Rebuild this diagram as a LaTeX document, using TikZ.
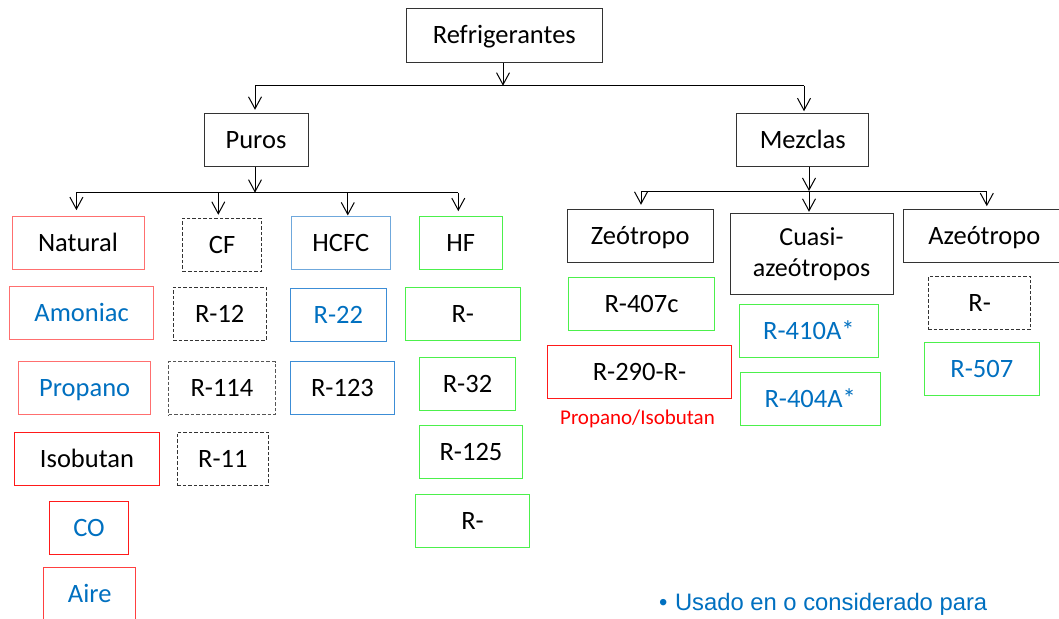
\documentclass[tikz,border=0pt]{standalone}
\usepackage{fontspec}
\setmainfont{Carlito}
\newfontfamily\arialfont{Liberation Sans}
\usetikzlibrary{arrows.meta}
\definecolor{lred}{HTML}{FF6F6F}
\definecolor{dred}{HTML}{FF1A1A}
\definecolor{mred}{HTML}{FF4040}
\definecolor{bboxc}{HTML}{3C8DD6}
\definecolor{lbboxc}{HTML}{6FA8DC}
\definecolor{gboxc}{HTML}{4CF04C}
\definecolor{tblue}{HTML}{0070C0}
\definecolor{dgray}{HTML}{333333}
\definecolor{mgray}{HTML}{555555}
\tikzset{
  bx/.style={draw=#1, line width=1pt, inner sep=0pt, text height=17pt, text depth=0pt,
    font=\fontsize{26.5}{31}\selectfont},
  dbx/.style={bx=#1, dash pattern=on 3.5pt off 2pt},
  conn/.style={draw=black, line width=1pt},
  arr/.style={conn, -{Straight Barb[length=12pt,width=13pt,line width=1pt]}},
}
\begin{document}
\begin{tikzpicture}[x=1pt,y=-1pt]
\useasboundingbox[fill=white] (0,0) rectangle (1059,618);
% top levels
\node[bx=dgray, minimum width=196.6pt, minimum height=54pt] (refr) at (504.3,35.3) {Refrigerantes};
\node[bx=dgray, minimum width=104pt, minimum height=53.4pt] (puros) at (256,140) {Puros};
\node[bx=dgray, minimum width=132.2pt, minimum height=52.7pt] (mezclas) at (802.7,139.7) {Mezclas};
% Puros column heads
\node[bx=lred, minimum width=132pt, minimum height=53.3pt] (natural) at (78,243.3) {Natural};
\node[dbx=dgray, minimum width=79.2pt, minimum height=53pt] (cf) at (222.1,244.8) {CF};
\node[bx=lbboxc, minimum width=98.9pt, minimum height=53.3pt] (hcfc) at (340.8,243.3) {HCFC};
\node[bx=gboxc, minimum width=82.7pt, minimum height=53.3pt] (hf) at (460.8,243.3) {HF};
% Natural column
\node[bx=lred, text=tblue, minimum width=144.7pt, minimum height=53.3pt] (amoniac) at (81.6,312.7) {Amoniac};
\node[bx=lred, text=tblue, minimum width=132.2pt, minimum height=53.3pt] (propano) at (84.7,388.3) {Propano};
\node[bx=dred, minimum width=144.9pt, minimum height=53pt] (isobutan) at (87,458.8) {Isobutan};
\node[bx=dred, text=tblue, minimum width=79.6pt, minimum height=53pt] (co) at (89,527.8) {CO};
\node[bx=mred, text=tblue, minimum width=92pt, minimum height=53pt] (aire) at (89.7,593.8) {Aire};
% CF column
\node[dbx=dgray, minimum width=93pt, minimum height=53pt] (r12) at (219.7,313.8) {R-12};
\node[dbx=mgray, minimum width=106.4pt, minimum height=53.3pt] (r114) at (221.9,388.3) {R-114};
\node[dbx=dgray, minimum width=91pt, minimum height=53pt] (r11) at (222.8,458.8) {R-11};
% HCFC column
\node[bx=bboxc, text=tblue, minimum width=96.1pt, minimum height=53.4pt] (r22) at (338.4,315) {R-22};
\node[bx=bboxc, minimum width=104.3pt, minimum height=53.3pt] (r123) at (342.5,388.3) {R-123};
% HF column
\node[bx=gboxc, minimum width=114.4pt, minimum height=53pt] (rhfa) at (462.8,313.8) {R-};
\node[bx=gboxc, minimum width=96.1pt, minimum height=53pt] (r32) at (467.5,384.2) {R-32};
\node[bx=gboxc, minimum width=103.3pt, minimum height=53pt] (r125) at (471,452.2) {R-125};
\node[bx=gboxc, minimum width=114.3pt, minimum height=53pt] (rhfb) at (472.5,521.2) {R-};
% Mezclas heads
\node[bx=dgray, minimum width=146.1pt, minimum height=53pt] (zeo) at (640.2,235.8) {Zeótropo};
\node[draw=dgray, line width=1pt, inner sep=0pt, minimum width=163pt, minimum height=81.4pt,
  align=center, font=\fontsize{26}{30.6}\selectfont] (cuasi) at (811.5,254) {Cuasi-\\azeótropos};
\node[bx=dgray, minimum width=166.4pt, minimum height=53pt] (azeo) at (986.8,235.8) {\hspace*{-5pt}Azeótropo};
% Zeotropo column
\node[bx=gboxc, minimum width=146.1pt, minimum height=53pt] (r407) at (641.5,303.8) {R-407c};
\node[bx=dred, minimum width=183.9pt, minimum height=53.4pt] (r290) at (639.5,372) {R-290-R-};
\node[text=red, inner sep=0pt, anchor=base, font=\fontsize{21}{25}\selectfont] (propiso) at (637.5,424.3) {Propano/Isobutan};
% Cuasi column
\node[bx=gboxc, text=tblue, minimum width=139.2pt, minimum height=53pt] (r410) at (808.9,330.8) {R-410A*};
\node[bx=gboxc, text=tblue, minimum width=139.6pt, minimum height=53pt] (r404) at (810.2,399.2) {R-404A*};
% Azeotropo column
\node[dbx=dgray, minimum width=102.4pt, minimum height=53pt] (razeo) at (979.6,302.8) {R-};
\node[bx=gboxc, text=tblue, minimum width=114.4pt, minimum height=53pt] (r507) at (981.8,369.2) {R-507};
% note
\node[text=tblue, inner sep=0pt, anchor=base west, font=\arialfont\fontsize{23.8}{28}\selectfont] (note) at (658.9,610.7) {•\hspace{7.6pt}Usado en o considerado para};
% connectors
\coordinate (rbus) at (0,85.7);
\coordinate (pbus) at (0,192.7);
\coordinate (mbus) at (0,191);
\draw[arr] ([xshift=-1.3pt]refr.south) -- ([xshift=-1.3pt]refr.south |- rbus);
\draw[conn] ([xshift=-1pt]puros.north |- rbus) -- ([xshift=1.3pt]mezclas.north |- rbus);
\draw[arr, shorten >=3pt] ([xshift=-1pt]puros.north |- rbus) -- ([xshift=-1pt]puros.north);
\draw[arr, shorten >=1.6pt] ([xshift=1.3pt]mezclas.north |- rbus) -- ([xshift=1.3pt]mezclas.north);
% Puros bus
\draw[arr] ([xshift=-1pt]puros.south) -- ([xshift=-1pt]puros.south |- pbus);
\draw[conn] ([xshift=-1.6pt]natural.north |- pbus) -- ([xshift=-2.5pt]hf.north |- pbus);
\draw[arr, shorten >=6pt] ([xshift=-1.6pt]natural.north |- pbus) -- ([xshift=-1.6pt]natural.north);
\draw[arr, shorten >=3pt] ([xshift=-3.8pt]cf.north |- pbus) -- ([xshift=-3.8pt]cf.north);
\draw[arr, shorten >=0.7pt] ([xshift=7pt]hcfc.north |- pbus) -- ([xshift=7pt]hcfc.north);
\draw[arr, shorten >=5pt] ([xshift=-2.5pt]hf.north |- pbus) -- ([xshift=-2.5pt]hf.north);
% Mezclas bus
\draw[arr] ([xshift=6.3pt]mezclas.south) -- ([xshift=6.3pt]mezclas.south |- mbus);
\draw[conn] ([xshift=0.8pt]zeo.north |- mbus) -- (azeo.north |- mbus);
\draw[arr, shorten >=4pt] ([xshift=0.8pt]zeo.north |- mbus) -- ([xshift=0.8pt]zeo.north);
\draw[arr, shorten >=1pt] ([xshift=-2.5pt]cuasi.north |- mbus) -- ([xshift=-2.5pt]cuasi.north);
\draw[arr, shorten >=2.6pt] (azeo.north |- mbus) -- (azeo.north);
\end{tikzpicture}
\end{document}
